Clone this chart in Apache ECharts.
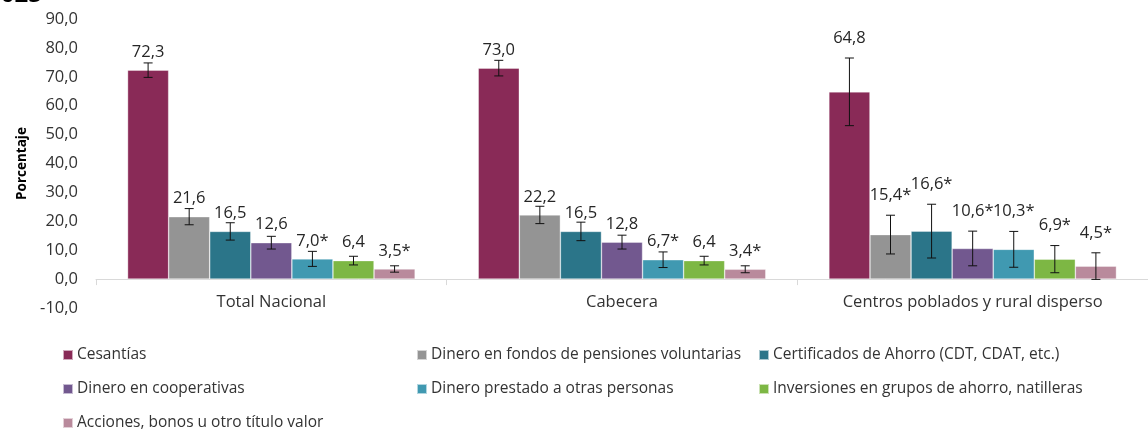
<!DOCTYPE html>
<html>
<head>
<meta charset="utf-8">
<script src="https://cdn.jsdelivr.net/npm/echarts@6/dist/echarts.min.js"></script>
<style>
html,body{margin:0;padding:0;background:#fff;}
#chart{width:1148px;height:430px;}
</style>
</head>
<body>
<div id="chart"></div>
<script>
// ---- DATA ----
const categories = ['Total Nacional', 'Cabecera', 'Centros poblados y rural disperso'];
const seriesNames = [
  'Cesantías',
  'Dinero en fondos de pensiones voluntarias',
  'Certificados de Ahorro (CDT, CDAT, etc.)',
  'Dinero en cooperativas',
  'Dinero prestado a otras personas',
  'Inversiones en grupos de ahorro, natilleras',
  'Acciones, bonos u otro título valor'
];
const cesantias      = [72.3, 73.0, 64.8];
const fondosPension  = [21.6, 22.2, 15.4];
const certificados   = [16.5, 16.5, 16.6];
const cooperativas   = [12.6, 12.8, 10.6];
const prestado       = [7.0, 6.7, 10.3];
const inversiones    = [6.4, 6.4, 6.9];
const acciones       = [3.5, 3.4, 4.5];

// half-width of error bars (confidence interval)
const cesantiasErr     = [2.5, 2.7, 11.7];
const fondosPensionErr = [2.8, 3.0, 6.7];
const certificadosErr  = [3.0, 3.2, 9.3];
const cooperativasErr  = [2.2, 2.4, 6.0];
const prestadoErr      = [2.6, 2.7, 6.2];
const inversionesErr   = [1.5, 1.5, 4.7];
const accionesErr      = [1.1, 1.2, 4.6];

// asterisk marks (high coefficient of variation)
const cesantiasStar     = [false, false, false];
const fondosPensionStar = [false, false, true];
const certificadosStar  = [false, false, true];
const cooperativasStar  = [false, false, true];
const prestadoStar      = [true, true, true];
const inversionesStar   = [false, false, true];
const accionesStar      = [true, true, true];

const yTicks = { min: -10, max: 90, interval: 10 };
const titleText = '2025';

// ---- STYLE ----
const colors = ['#892A57', '#949494', '#2B7589', '#72588F', '#4099B1', '#7DB744', '#B98A9C'];
const FONT = '"Open Sans"';
const FS = 16.5;
const LFS = 15.5;
const TXT = '#333333';
const CAT_GAP = 0.18;

const values = [cesantias, fondosPension, certificados, cooperativas, prestado, inversiones, acciones];
const errs = [cesantiasErr, fondosPensionErr, certificadosErr, cooperativasErr, prestadoErr, inversionesErr, accionesErr];
const stars = [cesantiasStar, fondosPensionStar, certificadosStar, cooperativasStar, prestadoStar, inversionesStar, accionesStar];
const nS = seriesNames.length;

const barSeries = seriesNames.map((name, k) => ({
  name: name,
  type: 'bar',
  data: values[k],
  barGap: '0%',
  barCategoryGap: (CAT_GAP * 100) + '%',
  itemStyle: { color: colors[k], borderColor: 'rgba(255,255,255,0.6)', borderWidth: 0.6 },
  z: 2
}));

const errData = [];
for (let k = 0; k < nS; k++) {
  for (let c = 0; c < categories.length; c++) {
    errData.push([c, values[k][c], errs[k][c], k, stars[k][c] ? 1 : 0]);
  }
}
// labels are lifted above the error bar in the last category (as in the reference)
const labelAboveError = [false, false, true];

const errSeries = {
  type: 'custom',
  name: 'err',
  data: errData,
  encode: { x: 0, y: 1 },
  z: 5,
  silent: true,
  renderItem: function (params, api) {
    const c = api.value(0), v = api.value(1), e = api.value(2), k = api.value(3), st = api.value(4);
    const band = api.size([1, 0])[0];
    const bw = band * (1 - CAT_GAP) / nS;
    const cx = api.coord([c, 0])[0] + (k - (nS - 1) / 2) * bw;
    const yTop = api.coord([c, v + e])[1];
    const yBot = api.coord([c, v - e])[1];
    const yBar = api.coord([c, v])[1];
    const cap = 4.5;
    const ls = { stroke: '#111', lineWidth: 1 };
    const txt = v.toFixed(1).replace('.', ',') + (st ? '*' : '');
    const ly = labelAboveError[c] ? yTop - 20 : yBar - 18;
    return {
      type: 'group',
      children: [
        { type: 'line', shape: { x1: cx, y1: yTop, x2: cx, y2: yBot }, style: ls },
        { type: 'line', shape: { x1: cx - cap, y1: yTop, x2: cx + cap, y2: yTop }, style: ls },
        { type: 'line', shape: { x1: cx - cap, y1: yBot, x2: cx + cap, y2: yBot }, style: ls },
        { type: 'text', x: cx, y: ly, style: { text: txt, fill: '#262626', font: FS + 'px ' + FONT, align: 'center', verticalAlign: 'middle' } }
      ]
    };
  }
};

// legend laid out in three columns, three rows
const legendCols = [62, 416, 758];
const legendRows = [347, 381, 415];
const legendPos = [[0, 0], [1, 0], [2, 0], [0, 1], [1, 1], [2, 1], [0, 2]];
const legends = seriesNames.map((name, k) => ({
  orient: 'horizontal',
  icon: 'rect',
  itemWidth: 10,
  itemHeight: 10,
  left: legendCols[legendPos[k][0]],
  top: legendRows[legendPos[k][1]],
  padding: 0,
  selectedMode: false,
  data: [name],
  textStyle: { fontFamily: FONT, fontSize: LFS, color: TXT, padding: [0, 0, 0, -1] }
}));

const option = {
  animation: false,
  color: colors,
  textStyle: { fontFamily: FONT },
  grid: { left: 96, top: 19, width: 1065, height: 289, containLabel: false },
  legend: legends,
  graphic: [
    { type: 'text', left: -13, top: -17, style: { text: titleText, font: 'bold 24px ' + FONT, fill: '#000' } }
  ],
  xAxis: {
    type: 'category',
    data: categories,
    axisLine: { onZero: true, lineStyle: { color: '#d9d9d9', width: 1 } },
    axisTick: { show: true, alignWithLabel: false, length: 6, lineStyle: { color: '#d9d9d9' } },
    axisLabel: { color: TXT, fontSize: FS, fontFamily: FONT, margin: -14, interval: 0 },
    splitLine: { show: false }
  },
  yAxis: {
    type: 'value',
    min: yTicks.min,
    max: yTicks.max,
    interval: yTicks.interval,
    name: 'Porcentaje',
    nameLocation: 'middle',
    nameGap: 67,
    nameTextStyle: { fontFamily: FONT, fontWeight: 'bold', fontSize: 13.5, color: '#000' },
    axisLine: { show: false },
    axisTick: { show: false },
    splitLine: { show: false },
    axisLabel: {
      color: TXT, fontSize: FS, fontFamily: FONT, margin: 18,
      formatter: function (v) { return v.toFixed(1).replace('.', ','); }
    }
  },
  series: barSeries.concat([errSeries])
};

const chart = echarts.init(document.getElementById('chart'), null, { renderer: 'canvas' });
chart.setOption(option);
</script>
</body>
</html>
